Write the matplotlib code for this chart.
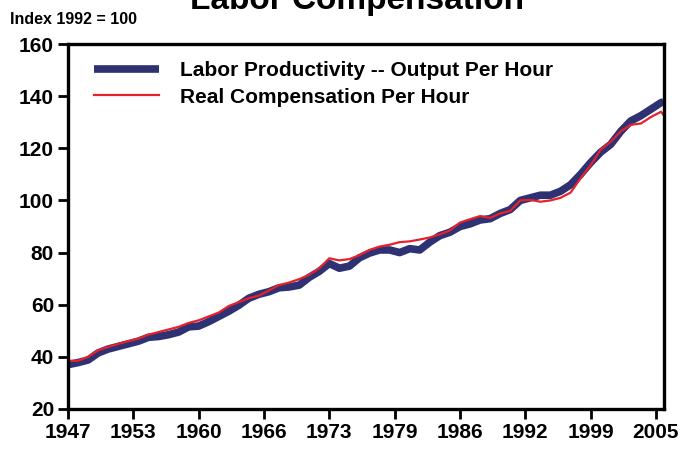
import matplotlib
matplotlib.use("Agg")
import matplotlib.pyplot as plt

plt.rcParams["font.family"] = ["Liberation Sans", "DejaVu Sans"]
plt.rcParams["font.weight"] = "bold"

# annual readings (index 1992 = 100)
years = [1947, 1948, 1949, 1950, 1951, 1952, 1953, 1954, 1955, 1956,
         1957, 1958, 1959, 1960, 1961, 1962, 1963, 1964, 1965, 1966,
         1967, 1968, 1969, 1970, 1971, 1972, 1973, 1974, 1975, 1976,
         1977, 1978, 1979, 1980, 1981, 1982, 1983, 1984, 1985, 1986,
         1987, 1988, 1989, 1990, 1991, 1992, 1993, 1994, 1995, 1996,
         1997, 1998, 1999, 2000, 2001, 2002, 2003, 2004, 2005, 2006, 2006.25]
productivity = [37.0, 37.8, 38.8, 41.5, 43.0, 44.0, 45.0, 46.0, 47.5, 47.8,
                48.5, 49.5, 51.5, 51.8, 53.5, 55.5, 57.5, 59.8, 62.5, 64.0,
                65.0, 66.5, 66.8, 67.5, 70.5, 72.8, 75.8, 74.0, 74.8, 78.0,
                79.8, 81.0, 81.0, 80.0, 81.5, 81.0, 84.0, 86.5, 87.8, 90.0,
                91.0, 92.5, 93.0, 95.0, 96.5, 100.0, 101.0, 102.0, 102.0, 103.5,
                106.0, 110.0, 114.5, 118.5, 121.5, 126.5, 130.5, 132.5, 135.0, 137.5, 137.8]
compensation = [38.5, 38.5, 40.0, 42.5, 43.8, 45.0, 46.0, 47.0, 48.5, 49.5,
                50.5, 51.5, 53.0, 54.0, 55.5, 57.0, 59.5, 61.0, 62.5, 63.5,
                65.5, 67.5, 68.5, 69.8, 71.5, 74.0, 77.8, 77.0, 77.5, 79.0,
                81.0, 82.3, 83.0, 84.0, 84.3, 85.0, 85.8, 87.0, 88.5, 91.5,
                92.8, 94.0, 93.3, 95.0, 96.0, 100.0, 100.2, 99.5, 100.0, 101.0,
                103.0, 108.5, 113.5, 119.5, 122.5, 126.5, 129.0, 129.5, 132.0, 134.0, 132.8]

tick_pos = [1947, 1953.5, 1960, 1966.5, 1973, 1979.5, 1986, 1992.5, 1999, 2005.5]
tick_labels = ["1947", "1953", "1960", "1966", "1973", "1979", "1986", "1992", "1999", "2005"]

fig = plt.figure(figsize=(6.83, 4.49), dpi=100)
ax = fig.add_axes([68 / 683, 1 - 409 / 449, 596 / 683, 365 / 449])

ax.plot(years, productivity, color="#2e3272", lw=5.5, solid_capstyle="butt",
        label="Labor Productivity -- Output Per Hour")
ax.plot(years, compensation, color="#e8202a", lw=1.6,
        label="Real Compensation Per Hour")

ax.set_xlim(1947, 2006.3)
ax.set_ylim(20, 160)
ax.set_yticks(range(20, 161, 20))
ax.set_xticks(tick_pos)
ax.set_xticklabels(tick_labels)

for s in ax.spines.values():
    s.set_linewidth(2.4)
ax.tick_params(axis="both", direction="out", length=7, width=2,
               labelsize=15, pad=3)
for lab in ax.get_xticklabels() + ax.get_yticklabels():
    lab.set_fontweight("bold")

leg = ax.legend(loc="upper left", bbox_to_anchor=(0.03, 0.975), frameon=False,
                fontsize=15, handlelength=3.1, handletextpad=1.0,
                labelspacing=0.35, borderaxespad=0)
for t in leg.get_texts():
    t.set_fontweight("bold")

fig.text(357 / 683, 1 - 9 / 449, "Labor Compensation", ha="center", va="baseline",
         fontsize=24, fontweight="bold")
fig.text(10 / 683, 1 - 24 / 449, "Index 1992 = 100", ha="left", va="baseline",
         fontsize=11.5, fontweight="bold")

fig.savefig("out.png", dpi=100)
